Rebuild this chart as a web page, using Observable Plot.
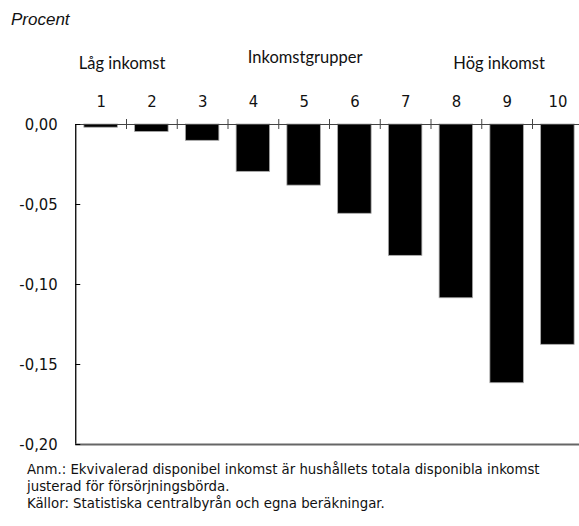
<!DOCTYPE html>
<html>
<head>
<meta charset="utf-8">
<script src="https://cdn.jsdelivr.net/npm/d3@7"></script>
<script src="https://cdn.jsdelivr.net/npm/@observablehq/plot@0.6"></script>
<style>
  html, body { margin: 0; padding: 0; background: #fff; overflow: hidden; }
  #wrap { position: relative; width: 579px; height: 526px; }
  #unit { height: 36px; box-sizing: border-box; padding: 10px 0 0 11px;
    font: italic 17px/20px "Liberation Sans", Arial, sans-serif; color: #111; }
  #chart svg { display: block; }
  #chart svg text { font-stretch: condensed; }
  #note { padding: 13.5px 0 0 27px; font-family: "DejaVu Sans", sans-serif; font-stretch: condensed;
    font-size: 14.8px; line-height: 17.3px; color: #111; }
</style>
</head>
<body>
<div id="wrap">
  <div id="unit">Procent</div>
  <div id="chart"></div>
  <div id="note">Anm.: Ekvivalerad disponibel inkomst är hushållets totala disponibla inkomst<br>justerad för försörjningsbörda.<br>Källor: Statistiska centralbyrån och egna beräkningar.</div>
</div>
<script>
const groups = ["1", "2", "3", "4", "5", "6", "7", "8", "9", "10"];
const values = [-0.002, -0.0047, -0.0102, -0.0296, -0.0382, -0.0558, -0.0821, -0.1086, -0.1617, -0.1377];
const yTicks = [0, -0.05, -0.10, -0.15, -0.20];
const lowLabel = "Låg inkomst";
const midLabel = "Inkomstgrupper";
const highLabel = "Hög inkomst";

const data = groups.map((g, i) => ({group: g, value: values[i]}));

const W = 579, mL = 75.25, mR = -3.75;
const step = (W - mL - mR) / groups.length;
const narrow = '"DejaVu Sans", sans-serif';
const humanist = 'Lato, "Open Sans", sans-serif';
const fmt = d => d.toFixed(2).replace(".", ",");

const chart = Plot.plot({
  width: W,
  height: 410,
  marginTop: 88,
  marginBottom: 2,
  marginLeft: mL,
  marginRight: mR,
  style: {fontFamily: narrow, fontSize: "16px", color: "#111", background: "#fff", overflow: "visible"},
  x: {type: "band", domain: groups, paddingInner: 0.34, paddingOuter: 0.17, round: false, axis: null},
  y: {domain: [-0.2, 0], axis: null},
  marks: [
    Plot.barY(data, {x: "group", y: "value", fill: "#000", stroke: "#aaa", strokeWidth: 0.8}),
    Plot.ruleY([0], {stroke: "#444", strokeWidth: 1}),
    Plot.ruleX(groups.slice(1), {x: d => d, y1: 0, y2: 0, insetTop: -5, insetBottom: -5, dx: -step / 2, stroke: "#444", strokeWidth: 1}),
    Plot.ruleX([groups[0]], {x: d => d, y1: -0.2, y2: 0, dx: -step / 2, stroke: "#000", strokeWidth: 1.3}),
    Plot.ruleY([-0.2], {stroke: "#666", strokeWidth: 2}),
    Plot.axisY({ticks: yTicks, tickSize: -5, tickPadding: 23, tickFormat: fmt, label: null, fontSize: 16.5, fontFamily: narrow, stroke: "#000"}),
    Plot.axisX({anchor: "top", tickSize: 0, tickPadding: 18, label: null, fontSize: 16.5, fontFamily: narrow}),
    Plot.text([lowLabel], {x: () => groups[0], text: d => d, frameAnchor: "top", dx: 21, dy: -67, fontSize: 16.5, fontWeight: 400, fontFamily: humanist, fill: "#111"}),
    Plot.text([midLabel], {x: () => groups[4], text: d => d, frameAnchor: "top", dx: 1, dy: -73, fontSize: 16.5, fontWeight: 400, fontFamily: humanist, fill: "#111"}),
    Plot.text([highLabel], {x: () => groups[8], text: d => d, frameAnchor: "top", dx: -8, dy: -67, fontSize: 16.5, fontWeight: 400, fontFamily: humanist, fill: "#111"})
  ]
});
document.getElementById("chart").appendChild(chart);
</script>
</body>
</html>
